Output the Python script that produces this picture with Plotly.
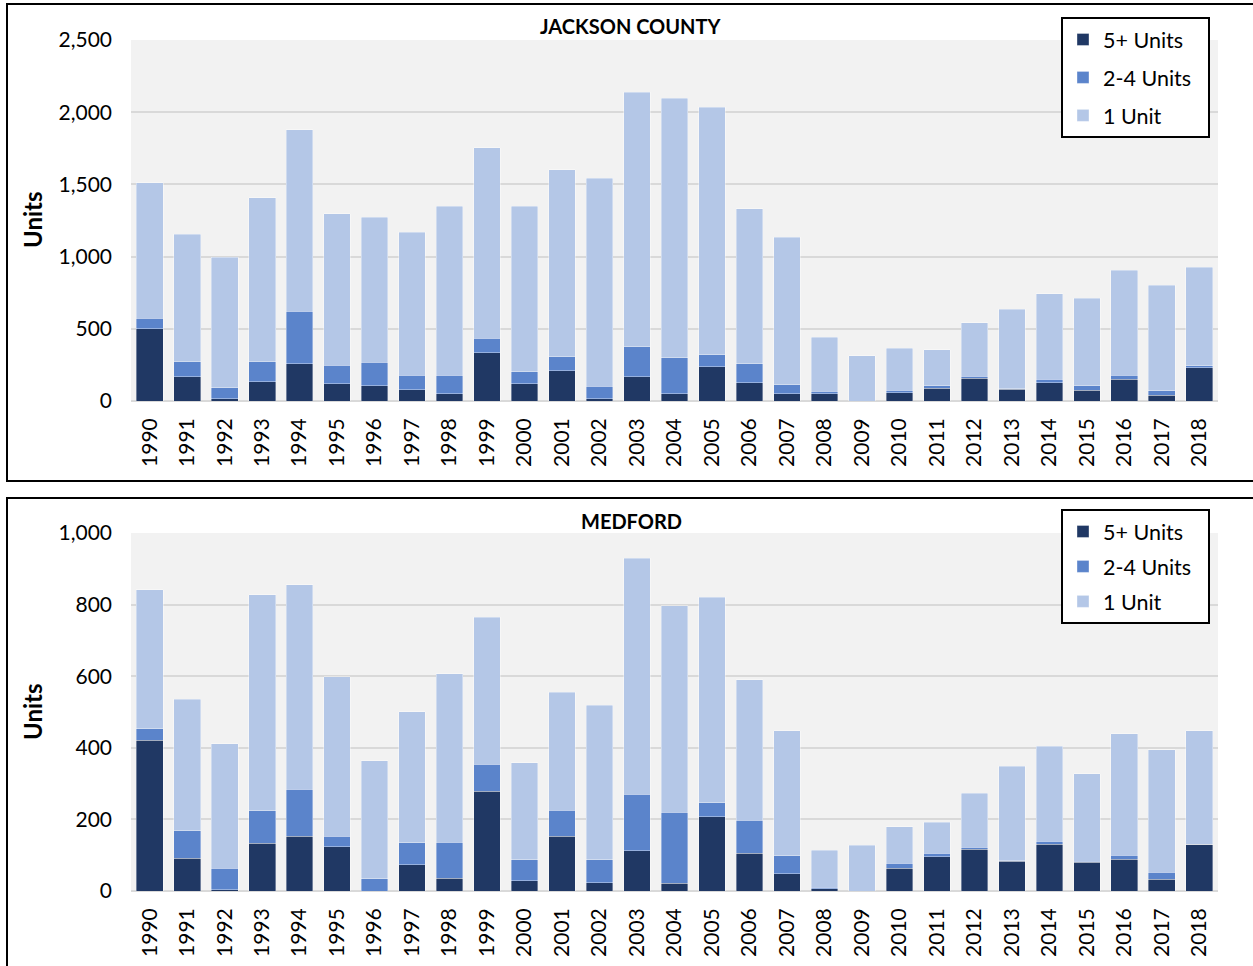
import plotly.graph_objects as go
from plotly.subplots import make_subplots

# --- data ---
years = [str(y) for y in range(1990, 2019)]

jackson_5plus = [500, 168, 16, 134, 258, 120, 106, 78, 51, 334, 120, 208, 16, 168,
                 51, 238, 127, 51, 51, 0, 58, 90, 159, 81, 125, 76, 150, 39, 231]
jackson_2to4 = [73, 104, 76, 138, 365, 129, 164, 102, 129, 100, 83, 99, 85, 206,
                249, 83, 131, 60, 18, 0, 16, 14, 14, 4, 27, 28, 27, 32, 14]
jackson_1unit = [937, 884, 903, 1136, 1254, 1048, 1004, 988, 1170, 1320, 1145, 1293, 1443, 1764,
                 1796, 1712, 1072, 1023, 374, 314, 293, 251, 369, 552, 591, 609, 730, 730, 683]

medford_5plus = [421, 91, 4, 133, 153, 123, 0, 73, 36, 279, 28, 153, 23, 112,
                 21, 207, 106, 48, 6, 0, 64, 95, 117, 83, 130, 81, 89, 33, 130]
medford_2to4 = [32, 78, 59, 91, 131, 30, 34, 62, 100, 75, 60, 73, 64, 158,
                199, 39, 91, 50, 5, 0, 13, 10, 5, 2, 9, 2, 11, 19, 0]
medford_1unit = [388, 366, 348, 603, 572, 445, 330, 366, 471, 411, 270, 329, 432, 659,
                 577, 575, 393, 350, 103, 128, 103, 87, 151, 263, 266, 244, 339, 343, 318]

series_names = ["5+ Units", "2-4 Units\u00a0\u00a0", "1 Unit"]
series_colors = ["#203864", "#5B84CB", "#B4C7E7"]

W, H = 1253, 966
FONT = "Lato, 'Liberation Sans', sans-serif"


def px_x(p):
    return p / W


def px_y(p):
    return 1 - p / H


fig = make_subplots(rows=2, cols=1)

panels = [
    (1, "legend", [jackson_5plus, jackson_2to4, jackson_1unit]),
    (2, "legend2", [medford_5plus, medford_2to4, medford_1unit]),
]
for row, leg, values in panels:
    for name, color, vals in zip(series_names, series_colors, values):
        fig.add_trace(go.Bar(
            x=years, y=vals, name=name,
            marker_color=color,
            marker_line=dict(color="rgba(255,255,255,0.45)", width=0.8),
            legend=leg, legendgroup=name + leg,
        ), row=row, col=1)

legend_style = dict(
    xanchor="left", yanchor="top",
    bgcolor="white", bordercolor="black", borderwidth=2,
    traceorder="grouped", itemwidth=30,
    font=dict(family=FONT, size=21.5, color="#000000"),
)

fig.update_layout(
    width=W, height=H,
    margin=dict(l=0, r=0, t=0, b=0),
    paper_bgcolor="white",
    plot_bgcolor="#F2F2F2",
    barmode="stack",
    bargap=0.29,
    font=dict(family=FONT, size=21, color="#000000"),
    showlegend=True,
    legend=dict(x=px_x(1061), y=px_y(17), tracegroupgap=7, **legend_style),
    legend2=dict(x=px_x(1061), y=px_y(509), tracegroupgap=4, **legend_style),
)

# axis domains to match the reference layout
fig.update_xaxes(domain=[px_x(131), px_x(1218)])
fig.update_yaxes(domain=[px_y(401), px_y(40)], row=1, col=1)
fig.update_yaxes(domain=[px_y(891), px_y(533)], row=2, col=1)

fig.update_xaxes(
    type="category", tickangle=-90, ticks="", showgrid=False,
    showline=False, ticklabelstandoff=12, automargin=False,
    tickfont=dict(family=FONT, size=21, color="#000000"),
)
fig.update_yaxes(
    showgrid=True, gridcolor="#D9D9D9", gridwidth=2,
    zeroline=True, zerolinecolor="#D9D9D9", zerolinewidth=2,
    tickformat=",d", ticklabelstandoff=18, automargin=False,
    tickfont=dict(family=FONT, size=21, color="#000000"),
)
fig.update_yaxes(range=[0, 2500], dtick=500, row=1, col=1)
fig.update_yaxes(range=[0, 1000], dtick=200, row=2, col=1)

# panel titles and axis titles
for text, ypix in [("JACKSON COUNTY", 26), ("MEDFORD", 521)]:
    fig.add_annotation(
        text=f"<b>{text}</b>", xref="paper", yref="paper",
        x=px_x(631), y=px_y(ypix), xanchor="center", yanchor="middle",
        showarrow=False, font=dict(family=FONT, size=20, color="#000000"),
    )
for ypix in [220, 712]:
    fig.add_annotation(
        text="<b>Units</b>", xref="paper", yref="paper",
        x=px_x(32), y=px_y(ypix), xanchor="center", yanchor="middle",
        textangle=-90, showarrow=False,
        font=dict(family=FONT, size=24, color="#000000"),
    )

# black frames around each panel
fig.add_shape(type="rect", xref="paper", yref="paper",
              x0=px_x(7), x1=1.02, y0=px_y(481), y1=px_y(4),
              line=dict(color="black", width=2), layer="above")
fig.add_shape(type="rect", xref="paper", yref="paper",
              x0=px_x(7), x1=1.02, y0=-0.02, y1=px_y(498),
              line=dict(color="black", width=2), layer="above")

# page body has a default 8px margin; drop it so the figure sits at the window origin
fig.write_html(
    "out.html",
    config={"displayModeBar": False},
    post_script="document.body.style.margin='0';",
)
